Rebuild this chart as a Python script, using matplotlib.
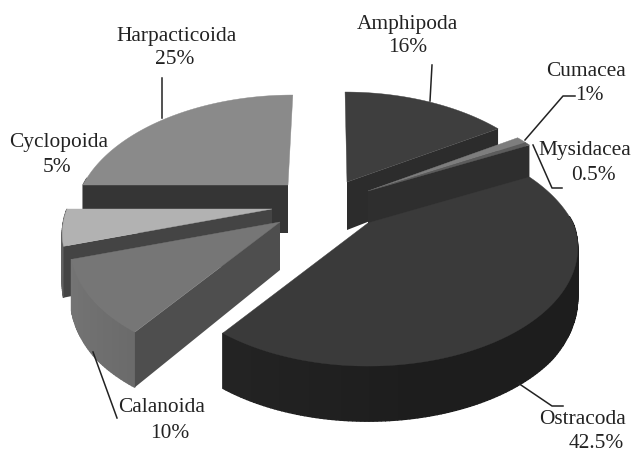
import numpy as np
import matplotlib
matplotlib.use("Agg")
import matplotlib.pyplot as plt

plt.rcParams["font.family"] = ["Liberation Serif", "DejaVu Serif"]

# pie data, clockwise from 12 o'clock
groups = ["Amphipoda", "Cumacea", "Mysidacea", "Ostracoda", "Calanoida", "Cyclopoida", "Harpacticoida"]
percent = [16, 1, 0.5, 42.5, 10, 5, 25]
pct_labels = ["16%", "1%", "0.5%", "42.5%", "10%", "5%", "25%"]

# look of the 3d pie (pixels)
center = (330, 200)
explode = [(17, -18), (38, -9), (38, -9), (38, 23), (-50, 22), (-58, 9), (-42, -15)]
top_col = ["#3e3e3e", "#7d7d7d", "#5c5c5c", "#3a3a3a", "#767676", "#b2b2b2", "#8a8a8a"]
cut_col = ["#2c2c2c", "#2e2e2e", "#2e2e2e", "#2a2a2a", "#4e4e4e", "#444444", "#353535"]
rim_col = ["#333333", "#555555", "#444444", "#222222", "#666666", "#555555", "#555555"]
# which cut edge shows a face: -1 = last edge, 0 = first edge, None = hidden
cut_edge = [-1, -1, -1, None, 0, 0, 0]
RX, RY, P_BACK, P_FRONT, SKEW, WALL = 205, 113, 0.256, 0.21, 0.144, 48

# draw order, back to front
order = [6, 0, 1, 2, 3, 5, 4]

fig = plt.figure(figsize=(6.33, 4.5), dpi=100)
ax = fig.add_axes([0, 0, 1, 1])
ax.set_xlim(0, 633)
ax.set_ylim(450, 0)
ax.axis("off")


def depth(theta):
    v = np.cos(theta)
    return 1 + np.where(v > 0, P_BACK, P_FRONT) * v


def project(theta, apex):
    u, v = np.sin(theta), np.cos(theta)
    w = depth(theta)
    # lines going back lean towards the middle of the pie
    x = apex[0] + (RX * u + SKEW * (center[0] - apex[0]) * np.maximum(v, 0)) / w
    y = apex[1] - RY * v / w
    return x, y


def wall(theta):
    return WALL / np.maximum(depth(theta), 0.87)


ends = np.cumsum([0] + percent) / sum(percent) * 2 * np.pi

for n, i in enumerate(order):
    apex = (center[0] + explode[i][0], center[1] + explode[i][1])
    t = np.linspace(ends[i], ends[i + 1], max(int(percent[i] * 4), 6))
    x, y = project(t, apex)
    h = wall(t)

    # outer rim, only the front part can be seen
    for k in range(len(t) - 1):
        if np.cos(t[k]) > 0.05 and np.cos(t[k + 1]) > 0.05:
            continue
        shade = max(0.9 + 0.25 * (-np.sin(t[k])), 0.85)
        c = np.clip(np.array(matplotlib.colors.to_rgb(rim_col[i])) * shade, 0, 1)
        ax.fill([x[k], x[k + 1], x[k + 1], x[k]],
                [y[k], y[k + 1], y[k + 1] + h[k + 1], y[k] + h[k]],
                facecolor=c, edgecolor=c, lw=1, zorder=n * 2 + 1)

    # cut face
    if cut_edge[i] is not None:
        e = cut_edge[i]
        ax.fill([apex[0], x[e], x[e], apex[0]],
                [apex[1], y[e], y[e] + h[e], apex[1] + WALL],
                color=cut_col[i], lw=0, zorder=n * 2 + 1)

    ax.fill(np.r_[apex[0], x], np.r_[apex[1], y], color=top_col[i], lw=0.3,
            zorder=n * 2 + 2)

# leader lines
leaders = [
    ([432, 430], [65, 101]),
    ([525, 563, 575], [140, 96, 96]),
    ([533, 552, 562], [145, 188, 188]),
    ([518, 552, 563], [383, 406, 406]),
    ([93, 117], [352, 418]),
    ([162, 162], [78, 118]),
]
for lx, ly in leaders:
    ax.plot(lx, ly, color="#222222", lw=1.1, zorder=30)

# labels
name_pos = [(407, 24), (586, 71), (585, 150), (582, 420), (162, 408), (59, 142), (177, 37)]
pct_pos = [(408, 48), (589, 96), (593, 176), (596, 444), (170, 433), (57, 168), (175, 60)]
for i in range(len(groups)):
    ax.text(name_pos[i][0], name_pos[i][1], groups[i], fontsize=15.4, color="#222222",
            ha="center", va="center", zorder=31)
    ax.text(pct_pos[i][0], pct_pos[i][1], pct_labels[i], fontsize=15.4, color="#222222",
            ha="center", va="center", zorder=31)

fig.savefig("out.png", dpi=100)
